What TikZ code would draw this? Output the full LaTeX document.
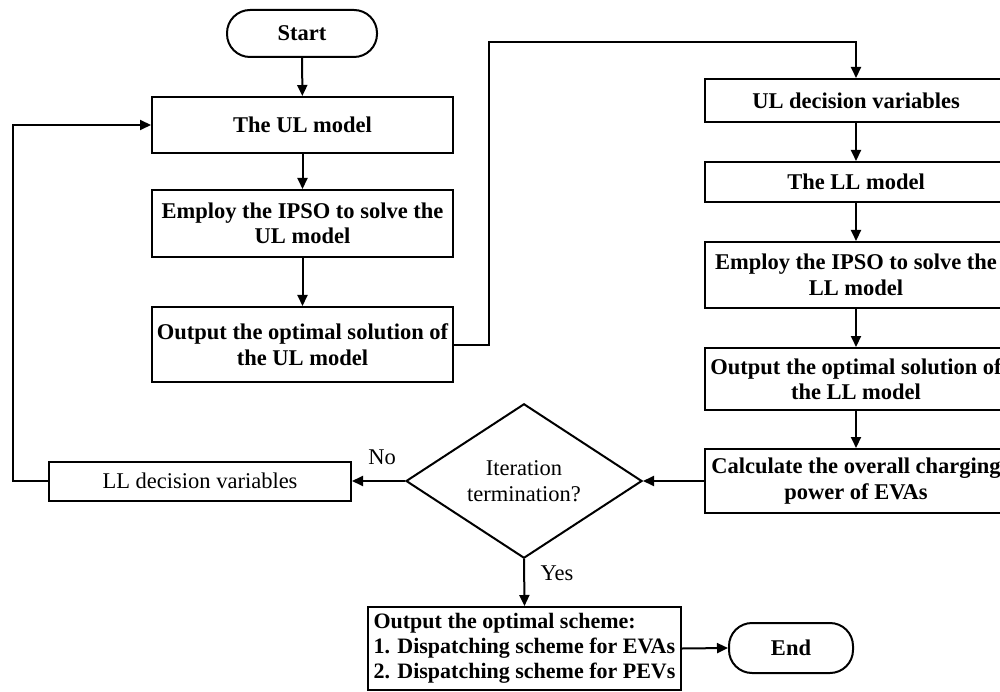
\documentclass[tikz,border=0pt]{standalone}
\usepackage{fontspec}
\setmainfont{Liberation Serif}
\usetikzlibrary{arrows.meta,shapes.geometric}
\begin{document}
\begin{tikzpicture}[x=1pt,y=-1pt,
  txt/.style={font=\fontsize{22.5}{25.5}\selectfont},
  btxt/.style={font=\bfseries\fontsize{22.5}{25.5}\selectfont},
  proc/.style={draw, line width=2pt, align=center, inner sep=1pt, btxt},
  term/.style={proc, rounded corners=23pt},
  decide/.style={draw, diamond, line width=2pt, align=center, inner sep=0pt, txt},
  flow/.style={line width=2pt, -{Triangle[length=11pt,width=10pt]}}
]
\useasboundingbox (0,0) rectangle (1000,692);

% upper-level column
\node[term, minimum width=150pt, minimum height=47pt] (start) at (302,33.5) {Start};
\node[proc, minimum width=301pt, minimum height=56pt] (ul) at (302.5,125) {The UL model};
\node[proc, minimum width=301pt, minimum height=67pt] (ipsoul) at (302.5,223.5) {Employ the IPSO to solve the\\UL model};
\node[proc, minimum width=301pt, minimum height=75pt] (outul) at (302.5,344.5) {Output the optimal solution of\\the UL model};

% lower-level column
\node[proc, minimum width=303pt, minimum height=43pt] (uldv) at (856,100.5) {UL decision variables};
\node[proc, minimum width=303pt, minimum height=40pt] (llm) at (856,182) {The LL model};
\node[proc, minimum width=303pt, minimum height=66pt] (ipsoll) at (856,275) {Employ the IPSO to solve the\\LL model};
\node[proc, minimum width=303pt, minimum height=62pt] (outll) at (856,379) {Output the optimal solution of\\the LL model};
\node[proc, minimum width=303pt, minimum height=64pt] (calc) at (856,481) {Calculate the overall charging\\power of EVAs};

% iteration check and results
\node[decide, minimum width=236pt, minimum height=141pt] (dia) at (524,481) {Iteration\\termination?};
\node[proc, txt, minimum width=302pt, minimum height=39pt] (lldv) at (200,481) {LL decision variables};
\node[proc, align=left, font=\bfseries\fontsize{22}{25}\selectfont, minimum width=313pt, minimum height=83pt] (scheme) at (524.5,648.5) {Output the optimal scheme:\\1. Dispatching scheme for EVAs\\2. Dispatching scheme for PEVs};
\node[term, minimum width=124pt, minimum height=50pt] (end) at (791,648) {End};

\node[txt] (nolbl) at (382,457) {No};
\node[txt] (yeslbl) at (557,573) {Yes};

\coordinate (bendup) at (489,42);
\coordinate (bendover) at (856,42);
\coordinate (backtop) at (13,125);

% connectors
\draw[flow] (start) -- (ul);
\draw[flow] (ul) -- (ipsoul);
\draw[flow] (ipsoul) -- (outul);
\draw[flow] (outul.east) -| (bendup) -- (bendover) -- (uldv.north);
\draw[flow] (uldv) -- (llm);
\draw[flow] (llm) -- (ipsoll);
\draw[flow] (ipsoll) -- (outll);
\draw[flow] (outll) -- (calc);
\draw[flow] (calc.west) -- (dia.east);
\draw[flow] (dia.west) -- (lldv.east);
\draw[flow] (lldv.west) -| (backtop) -- (ul.west);
\draw[flow] (dia.south) -- (scheme.north);
\draw[flow] (scheme.east) -- (end.west);
\end{tikzpicture}
\end{document}
